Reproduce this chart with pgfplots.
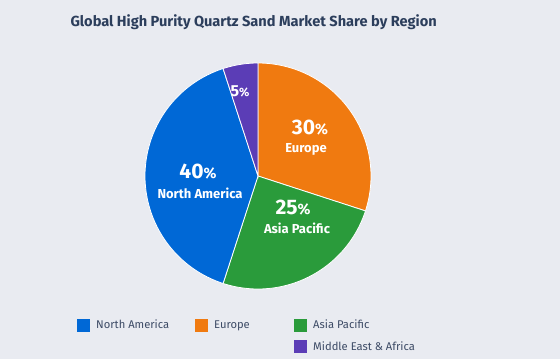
\documentclass[border=0pt]{standalone}
\usepackage{pgfplots}
\pgfplotsset{compat=1.18}
\usepackage{fontspec}
\setmainfont{Fira Sans}
\definecolor{bgc}{HTML}{E9EBF1}
\definecolor{cna}{HTML}{0068D6}
\definecolor{ceu}{HTML}{F07A10}
\definecolor{cap}{HTML}{2A9B3B}
\definecolor{cme}{HTML}{5B3DB6}
\definecolor{ctitle}{HTML}{2C3E5C}
\definecolor{clegend}{HTML}{3D4B66}
\newcommand\pct[3]{{\fontsize{#2}{#2}\selectfont\bfseries #1}{\fontsize{#3}{#3}\selectfont\bfseries\%}}
\begin{document}
\begin{tikzpicture}
\begin{axis}[
  x=1pt, y=1pt, xmin=0, xmax=560, ymin=0, ymax=359,
  hide axis, clip=false, scale only axis,
  legend columns=3,
  legend style={at={(axis cs:74,43)}, anchor=north west, draw=none, fill=none,
    font=\fontsize{11.2}{13}\selectfont, text=clegend,
    /tikz/every odd column/.append style={column sep=4pt},
    /tikz/every even column/.append style={column sep=0pt},
    /tikz/row sep=7pt, cells={anchor=west}},
  legend image code/.code={\draw[#1,draw=none] (0pt,-6.5pt) rectangle (13pt,6.5pt);},
]
\fill[bgc] (axis cs:0,0) rectangle (axis cs:560,359);
% pie slices: cumulative percentages, clockwise from 12 o'clock; centre (258,183), radius 113
\addplot[forget plot, fill=ceu, draw=white, line width=0.8pt, domain=0:30, samples=80, smooth]
  ({258+113*cos(90-3.6*x)}, {183+113*sin(90-3.6*x)}) -- (axis cs:258,183) -- cycle;
\addplot[forget plot, fill=cap, draw=white, line width=0.8pt, domain=30:55, samples=80, smooth]
  ({258+113*cos(90-3.6*x)}, {183+113*sin(90-3.6*x)}) -- (axis cs:258,183) -- cycle;
\addplot[forget plot, fill=cna, draw=white, line width=0.8pt, domain=55:95, samples=100, smooth]
  ({258+113*cos(90-3.6*x)}, {183+113*sin(90-3.6*x)}) -- (axis cs:258,183) -- cycle;
\addplot[forget plot, fill=cme, draw=white, line width=0.8pt, domain=95:100, samples=30, smooth]
  ({258+113*cos(90-3.6*x)}, {183+113*sin(90-3.6*x)}) -- (axis cs:258,183) -- cycle;
% legend
\addlegendimage{fill=cna}\addlegendentry{\makebox[97pt][l]{North America}}
\addlegendimage{fill=ceu}\addlegendentry{\makebox[78pt][l]{Europe}}
\addlegendimage{fill=cap}\addlegendentry{Asia Pacific}
\addlegendimage{empty legend}\addlegendentry{}
\addlegendimage{empty legend}\addlegendentry{}
\addlegendimage{fill=cme}\addlegendentry{Middle East \& Africa}
% title
\node[anchor=base west, text=ctitle, font=\fontsize{14.6}{17}\selectfont\bfseries] at (axis cs:67,332) {Global High Purity Quartz Sand Market Share by Region};
% slice labels
\node[white] at (axis cs:310,231) {\pct{30}{21}{15}};
\node[white, font=\fontsize{13}{15}\selectfont\bfseries] at (axis cs:306,210) {Europe};
\node[white] at (axis cs:293,151) {\pct{25}{21}{15}};
\node[white, font=\fontsize{13}{15}\selectfont\bfseries] at (axis cs:297,131) {Asia Pacific};
\node[white] at (axis cs:198,187) {\pct{40}{21}{15}};
\node[white, font=\fontsize{13}{15}\selectfont\bfseries] at (axis cs:200,166) {North America};
\node[white] at (axis cs:240,268) {\pct{5}{16}{12}};
\end{axis}
\end{tikzpicture}
\end{document}
